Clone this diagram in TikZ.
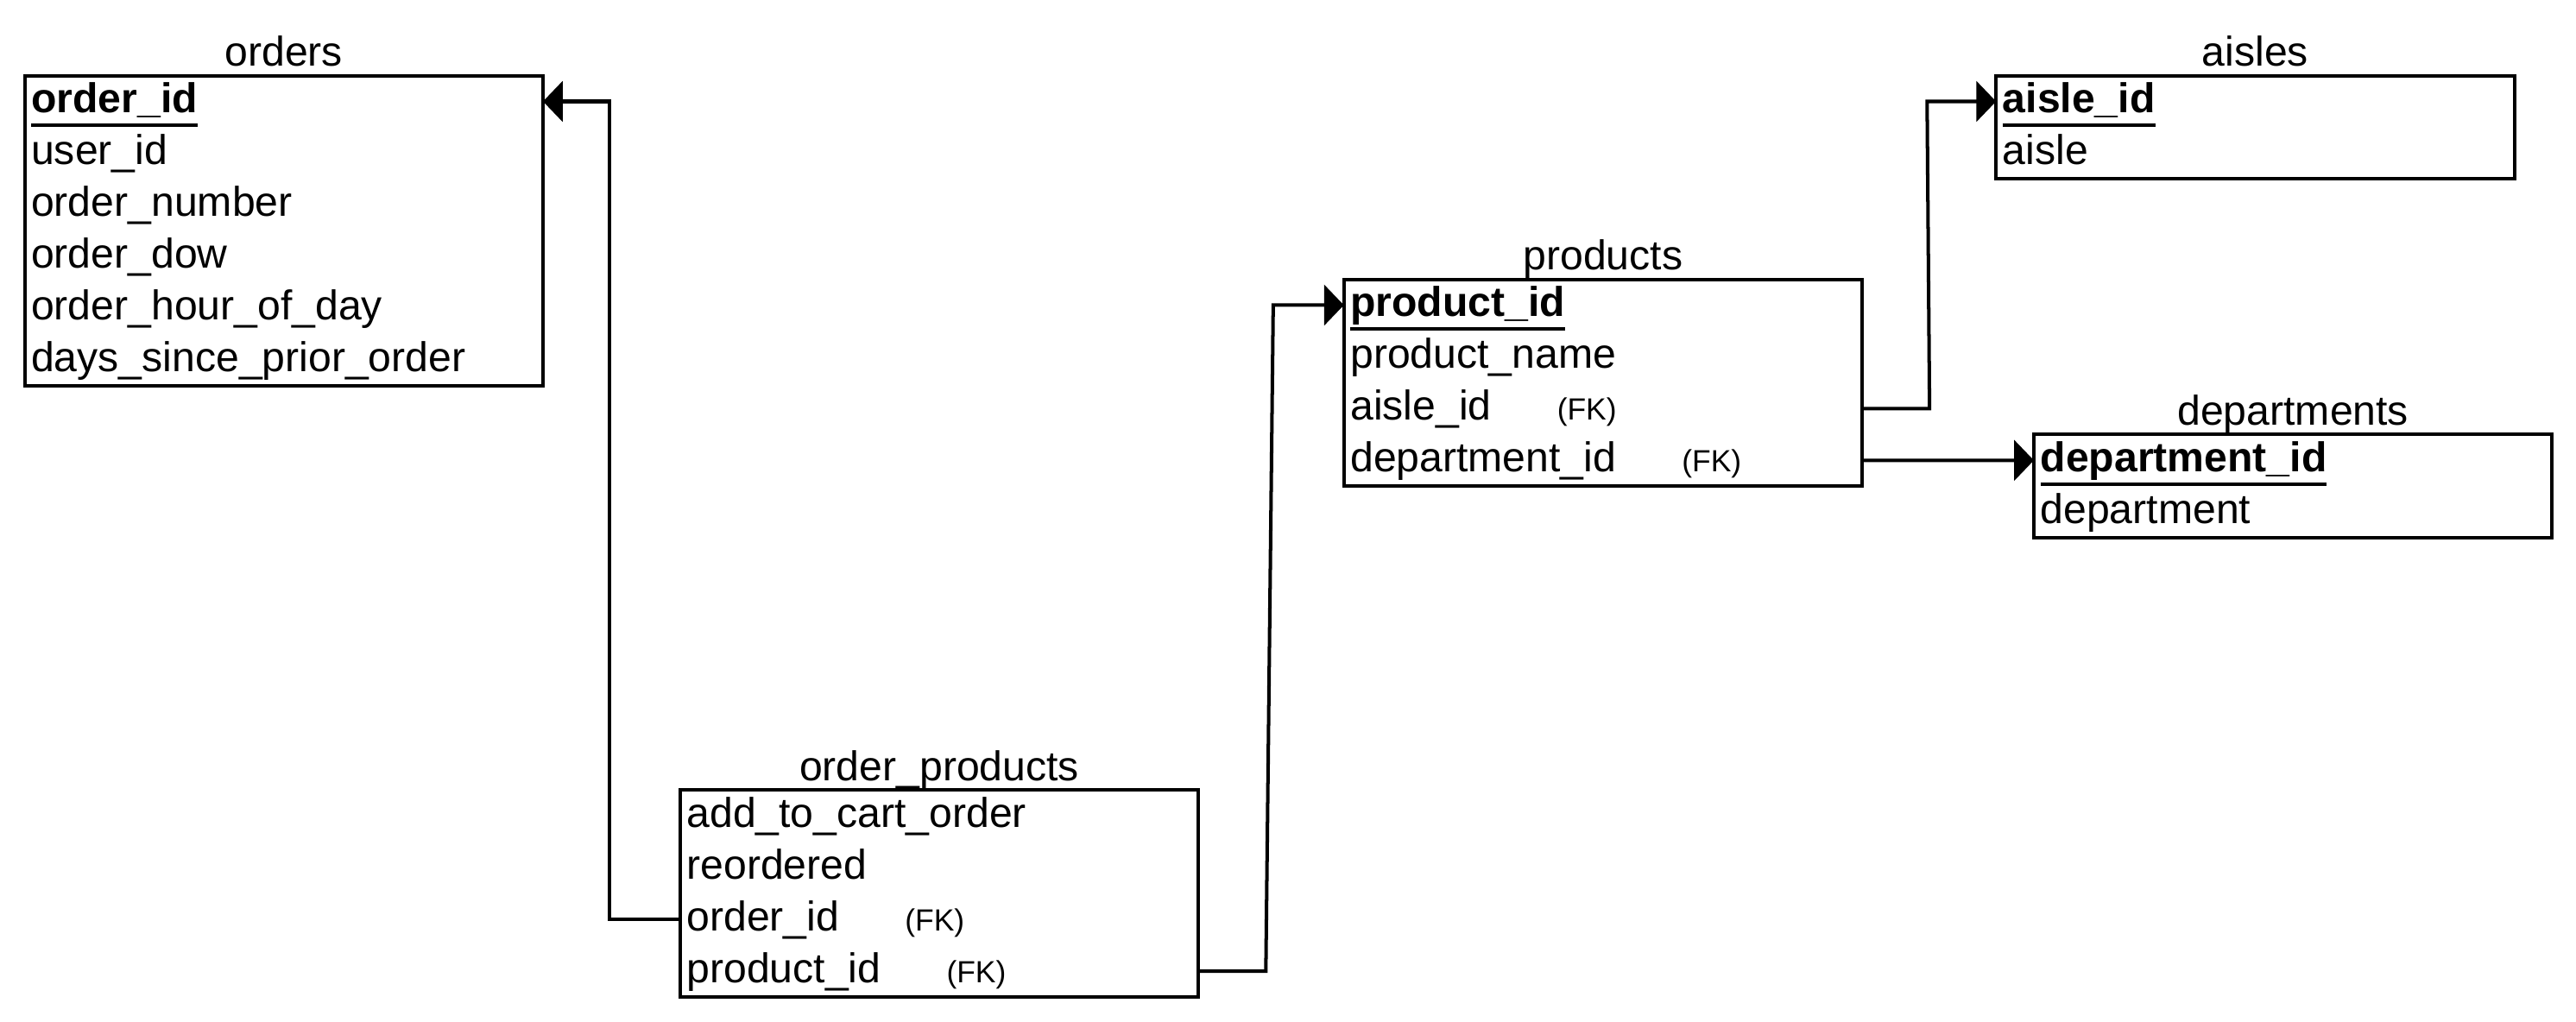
\documentclass[tikz,border=0pt]{standalone}
\usepackage{fontspec}
\setmainfont{Liberation Sans}
\usetikzlibrary{arrows.meta,calc,positioning}
\newcommand{\erdfont}{\fontsize{14.4}{17}\selectfont}
\newcommand{\erdfk}[1]{{\fontsize{10.6}{12}\selectfont #1}}
\newcommand{\erdpk}[1]{\setbox0\hbox{\bfseries #1}\rlap{\rule[-4.8pt]{\wd0}{1.2pt}}\box0}
\tikzset{
    erd frame/.style={
        draw,
        line width=1.2pt,
        minimum width=6.31cm,
        inner sep=0pt,
        outer sep=0pt,
        anchor=north west
    },
    erd title/.style={
        font=\erdfont,
        inner sep=0pt,
        text depth=0pt,
        label distance=3pt
    },
    erd row/.style={
        inner xsep=0.08cm,
        inner ysep=0pt,
        outer sep=0pt,
        text width=6.15cm,
        minimum height=0.63cm,
        text height=12pt,
        text depth=4pt,
        align=left,
        font=\erdfont
    },
    erd link/.style={-{Triangle[length=2.4mm,width=4.9mm]}, line width=1.2pt}
}

\begin{document}
\begin{tikzpicture}[x=0.2mm,y=0.2mm]
    \useasboundingbox (0,0) rectangle (1568,-622);

    % orders
    \node[erd frame, minimum height=3.78cm, label={[erd title]above:orders}] (orders) at (15,-46) {};
    \node[erd row, anchor=north west] (ord-id) at (orders.north west) {\erdpk{order\_id}};
    \node[erd row, below=0pt of ord-id] (ord-uid) {user\_id};
    \node[erd row, below=0pt of ord-uid] (ord-num) {order\_number};
    \node[erd row, below=0pt of ord-num] (ord-dow) {order\_dow};
    \node[erd row, below=0pt of ord-dow] (ord-hour) {order\_hour\_of\_day};
    \node[erd row, below=0pt of ord-hour] (ord-days) {days\_since\_prior\_order};

    % order_products
    \node[erd frame, minimum height=2.52cm, label={[erd title]above:order\_products}] (op) at (414,-481) {};
    \node[erd row, anchor=north west] (op-cart) at (op.north west) {add\_to\_cart\_order};
    \node[erd row, below=0pt of op-cart] (op-re) {reordered};
    \node[erd row, below=0pt of op-re] (op-oid) {order\_id\hspace{0.8cm}\erdfk{(FK)}};
    \node[erd row, below=0pt of op-oid] (op-pid) {product\_id\hspace{0.8cm}\erdfk{(FK)}};

    % products
    \node[erd frame, minimum height=2.52cm, label={[erd title]above:products}] (products) at (818,-170) {};
    \node[erd row, anchor=north west] (prd-id) at (products.north west) {\erdpk{product\_id}};
    \node[erd row, below=0pt of prd-id] (prd-name) {product\_name};
    \node[erd row, below=0pt of prd-name] (prd-aid) {aisle\_id\hspace{0.8cm}\erdfk{(FK)}};
    \node[erd row, below=0pt of prd-aid] (prd-did) {department\_id\hspace{0.8cm}\erdfk{(FK)}};

    % aisles
    \node[erd frame, minimum height=1.26cm, label={[erd title]above:aisles}] (aisles) at (1215,-46) {};
    \node[erd row, anchor=north west] (ais-id) at (aisles.north west) {\erdpk{aisle\_id}};
    \node[erd row, below=0pt of ais-id] (ais-name) {aisle};

    % departments
    \node[erd frame, minimum height=1.26cm, label={[erd title]above:departments}] (departments) at (1238,-264.5) {};
    \node[erd row, anchor=north west] (dep-id) at (departments.north west) {\erdpk{department\_id}};
    \node[erd row, below=0pt of dep-id] (dep-name) {department};

    \draw[erd link] (op-oid.west) -- ++(-43,0) |- (ord-id.east);
    \draw[erd link] (op-pid.east) -- ++(41,0) -- ($(prd-id.west)+(-43,0)$) -- (prd-id.west);
    \draw[erd link] (prd-aid.east) -- ++(41,0) -- ($(ais-id.west)+(-42,0)$) -- (ais-id.west);
    \draw[erd link] (prd-did.east) -- (dep-id.west);
\end{tikzpicture}
\end{document}
